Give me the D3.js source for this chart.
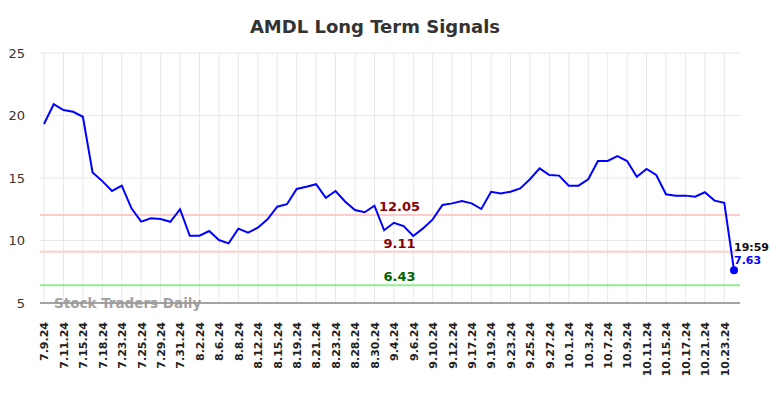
<!DOCTYPE html>
<html>
<head>
<meta charset="utf-8">
<script src="https://cdn.jsdelivr.net/npm/d3@7"></script>
<style>
  body { margin: 0; background: #fff; }
  svg { display: block; font-family: "DejaVu Sans", sans-serif; }
</style>
</head>
<body>
<div id="chart"></div>
<script>
const dates = [
  '7.9.24', '7.10.24', '7.11.24', '7.12.24', '7.15.24', '7.17.24', '7.18.24', '7.22.24',
  '7.23.24', '7.24.24', '7.25.24', '7.26.24', '7.29.24', '7.30.24', '7.31.24', '8.1.24',
  '8.2.24', '8.5.24', '8.6.24', '8.7.24', '8.8.24', '8.9.24', '8.12.24', '8.14.24',
  '8.15.24', '8.16.24', '8.19.24', '8.20.24', '8.21.24', '8.22.24', '8.23.24', '8.27.24',
  '8.28.24', '8.29.24', '8.30.24', '9.3.24', '9.4.24', '9.5.24', '9.6.24', '9.9.24',
  '9.10.24', '9.11.24', '9.12.24', '9.16.24', '9.17.24', '9.18.24', '9.19.24', '9.20.24',
  '9.23.24', '9.24.24', '9.25.24', '9.26.24', '9.27.24', '9.30.24', '10.1.24', '10.2.24',
  '10.3.24', '10.4.24', '10.7.24', '10.8.24', '10.9.24', '10.10.24', '10.11.24', '10.14.24',
  '10.15.24', '10.16.24', '10.17.24', '10.18.24', '10.21.24', '10.22.24', '10.23.24', '10.24.24'
];

const prices = [
  19.32, 20.9, 20.44, 20.3, 19.9, 15.45, 14.75, 13.96,
  14.39, 12.57, 11.51, 11.78, 11.72, 11.5, 12.5, 10.38,
  10.38, 10.76, 10.04, 9.77, 10.95, 10.62, 11.02, 11.69,
  12.7, 12.9, 14.12, 14.3, 14.5, 13.42, 13.96, 13.1,
  12.44, 12.26, 12.78, 10.82, 11.42, 11.16, 10.36, 10.97,
  11.69, 12.84, 12.97, 13.16, 12.97, 12.52, 13.9, 13.77,
  13.9, 14.17, 14.9, 15.77, 15.24, 15.19, 14.39, 14.39,
  14.9, 16.36, 16.36, 16.76, 16.36, 15.1, 15.72, 15.24,
  13.7, 13.59, 13.59, 13.5, 13.86, 13.19, 13.02, 7.63
];

const yTicks = [5, 10, 15, 20, 25];

const signalValues = [12.05, 9.11, 6.43];
const signalLineColors = ['#ffcccc', '#ffcccc', '#90ee90'];
const signalTextColors = ['#8b0000', '#8b0000', '#006400'];

const lastTime = '19:59';

const width = 784;
const height = 398;
const plotLeft = 40;
const plotRight = 740;

const svg = d3.select('#chart')
  .append('svg')
  .attr('width', width)
  .attr('height', height);

const x = d3.scalePoint()
  .domain(dates)
  .range([44, 734]);

const y = d3.scaleLinear()
  .domain([5, 25])
  .range([303, 53]);

// title
svg.append('text')
  .attr('x', 375)
  .attr('y', 33)
  .attr('text-anchor', 'middle')
  .style('font-size', '18px')
  .style('font-weight', 'bold')
  .style('fill', '#333')
  .text('AMDL Long Term Signals');

// vertical grid (every second date)
const labelDates = dates.filter((d, i) => i % 2 === 0);

svg.append('g')
  .selectAll('line')
  .data(labelDates)
  .enter()
  .append('line')
  .attr('x1', (d) => x(d))
  .attr('x2', (d) => x(d))
  .attr('y1', y(25))
  .attr('y2', y(5))
  .attr('stroke', '#e8e8e8')
  .attr('stroke-width', 1);

// horizontal grid
svg.append('g')
  .selectAll('line')
  .data(yTicks)
  .enter()
  .append('line')
  .attr('x1', plotLeft)
  .attr('x2', plotRight)
  .attr('y1', (d) => y(d))
  .attr('y2', (d) => y(d))
  .attr('stroke', '#e8e8e8')
  .attr('stroke-width', 1);

// y axis labels
const yAxis = svg.append('g')
  .attr('transform', `translate(${plotLeft},0)`)
  .call(d3.axisLeft(y).tickValues(yTicks).tickSize(0).tickPadding(15));
yAxis.select('.domain').remove();
yAxis.selectAll('text')
  .style('font-size', '13px')
  .style('font-family', '"DejaVu Sans", sans-serif')
  .style('fill', '#333');

// x axis
const xAxis = svg.append('g')
  .attr('transform', `translate(0,${y(5)})`)
  .call(d3.axisBottom(x).tickValues(labelDates).tickSize(0));
xAxis.select('.domain').remove();
xAxis.selectAll('text')
  .attr('transform', 'rotate(-90)')
  .attr('text-anchor', 'end')
  .attr('x', -19)
  .attr('y', 0)
  .attr('dy', '0.35em')
  .style('font-size', '11px')
  .style('font-weight', 'bold')
  .style('font-family', '"DejaVu Sans", sans-serif')
  .style('fill', '#222');

svg.append('line')
  .attr('x1', plotLeft)
  .attr('x2', plotRight)
  .attr('y1', y(5))
  .attr('y2', y(5))
  .attr('stroke', '#555')
  .attr('stroke-width', 1.2);

// watermark
svg.append('text')
  .attr('x', 54)
  .attr('y', y(5) + 5)
  .style('font-size', '13.5px')
  .style('font-weight', 'bold')
  .style('fill', '#999')
  .style('opacity', 0.9)
  .text('Stock Traders Daily');

// signal lines
signalValues.forEach((v, i) => {
  svg.append('line')
    .attr('x1', plotLeft)
    .attr('x2', plotRight)
    .attr('y1', y(v))
    .attr('y2', y(v))
    .attr('stroke', signalLineColors[i])
    .attr('stroke-width', 2);
  svg.append('text')
    .attr('x', 399.5)
    .attr('y', y(v) - 4)
    .attr('text-anchor', 'middle')
    .style('font-size', '13px')
    .style('font-weight', 'bold')
    .style('fill', signalTextColors[i])
    .text(v.toFixed(2));
});

// price line
const line = d3.line()
  .x((d, i) => x(dates[i]))
  .y((d) => y(d));

svg.append('path')
  .datum(prices)
  .attr('fill', 'none')
  .attr('stroke', '#0000ff')
  .attr('stroke-width', 2)
  .attr('d', line);

// last point
const lastDate = dates[dates.length - 1];
const lastPrice = prices[prices.length - 1];

svg.append('circle')
  .attr('cx', x(lastDate))
  .attr('cy', y(lastPrice))
  .attr('r', 4)
  .attr('fill', '#0000ff');

svg.append('text')
  .attr('x', x(lastDate))
  .attr('y', y(lastPrice) - 19)
  .style('font-size', '11px')
  .style('font-weight', 'bold')
  .style('fill', '#111')
  .text(lastTime);

svg.append('text')
  .attr('x', x(lastDate))
  .attr('y', y(lastPrice) - 6)
  .style('font-size', '11px')
  .style('font-weight', 'bold')
  .style('fill', '#0000ff')
  .text(lastPrice.toFixed(2));
</script>
</body>
</html>
